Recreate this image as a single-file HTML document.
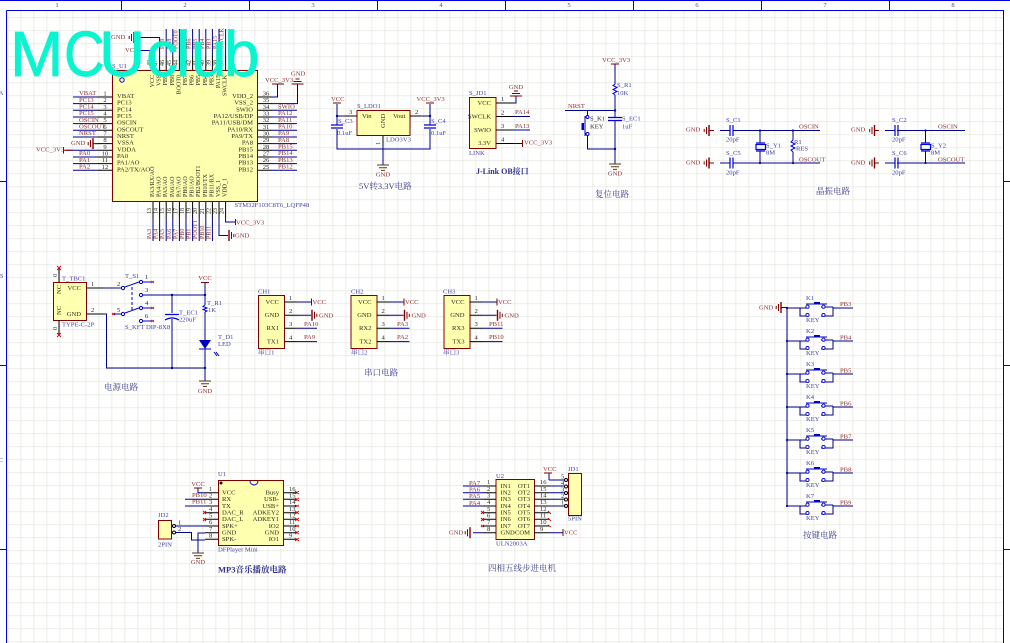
<!DOCTYPE html>
<html><head><meta charset="utf-8"><style>
html,body{margin:0;padding:0;background:#fff;overflow:hidden}
svg{display:block;font-family:"Liberation Serif","Noto Serif CJK SC",serif;font-size:6.6px;filter:blur(.3px)}
.r{fill:#8b3030}.b{fill:#4545a5}.k{fill:#2b2b20}
.w{fill:none;stroke:#00008b;stroke-width:1}
.p{fill:none;stroke:#000;stroke-width:1}
.d{fill:none;stroke:#800000;stroke-width:1}
.c{fill:none;stroke:#0000e0;stroke-width:1.2}
.body{fill:#ffffb0;stroke:#800000;stroke-width:1}
.x{fill:none;stroke:#e00000;stroke-width:.9}
.t{font-size:8.5px;fill:#40408f}
.m{text-anchor:middle}.e{text-anchor:end}
</style></head><body>
<svg width="1010" height="643" viewBox="0 0 1010 643" xmlns="http://www.w3.org/2000/svg">
<defs>
<pattern id="g" x="7.5" y="4.3" width="13" height="13" patternUnits="userSpaceOnUse"><path d="M0 0V13M0 0H13" fill="none" stroke="#e7e7e0" stroke-width="1.5"/></pattern>
<g id="gl"><path class="d" style="stroke-width:1.4" d="M0-5.5V5.5"/><path class="d" d="M-2.5-3.5V3.5M-4.8-1.6V1.6"/></g>
<g id="gd"><path class="d" d="M-6 0H6M-4 2.8H4M-2 5.4H2" style="stroke:#5a3a10"/></g>
<g id="gu"><path class="d" d="M-6 0H6M-4-2.5H4M-2-5H2"/></g>
<g id="key"><path class="w" d="M0 0H13M13 0V8H21M13 0H21M46 -1H34M46 -1V8H34M46 0H66"/><circle cx="20.5" cy="-1.3" r="1.6" fill="#fff" stroke="#0000c0" stroke-width=".9"/><circle cx="20.5" cy="7" r="1.6" fill="#fff" stroke="#0000c0" stroke-width=".9"/><circle cx="36.5" cy="-1.3" r="1.6" fill="#fff" stroke="#0000c0" stroke-width=".9"/><circle cx="36.5" cy="7" r="1.6" fill="#fff" stroke="#0000c0" stroke-width=".9"/><path d="M19-4H40" stroke="#0000c0" fill="none"/><rect x="27" y="-6" width="6" height="2" fill="#0000c0"/><circle cx="0" cy="0" r="1.1" fill="#00008b"/></g>
</defs>
<rect width="1010" height="643" fill="#fff"/>
<rect x="7" y="10" width="997" height="640" fill="url(#g)"/>
<path d="M0 .5H1010M6.5 10.5H1003.5V643M6.5 10.5V643M121.5 0V10M249.5 0V10M377.5 0V10M505.5 0V10M633.5 0V10M761.5 0V10M889.5 0V10M0 181.5H6M0 365.5H6M0 549.5H6M1004 181.5H1010M1004 365.5H1010M1004 549.5H1010" fill="none" stroke="#0000e0" stroke-width="1"/>
<g class="b m"><text x="57" y="7">1</text><text x="185" y="7">2</text><text x="313" y="7">3</text><text x="441" y="7">4</text><text x="569" y="7">5</text><text x="697" y="7">6</text><text x="825" y="7">7</text><text x="953" y="7">8</text><text x="1" y="95">A</text><text x="1" y="278">B</text><text x="1" y="462">C</text></g>

<!-- MCU -->
<rect class="body" x="112.5" y="70.5" width="145" height="131"/>
<circle cx="122" cy="80" r="2.2" fill="none" stroke="#0000e0"/>
<path class="p" d="M98 97H112M98 103.6H112M98 110.3H112M98 117H112M98 123.6H112M98 130.3H112M98 137H112M98 143.6H112M98 150.3H112M98 157H112M98 163.6H112M98 170.3H112M258 97H272M258 103.6H272M258 110.3H272M258 117H272M258 123.6H272M258 130.3H272M258 137H272M258 143.6H272M258 150.3H272M258 157H272M258 163.6H272M258 170.3H272M153 202V218M159.6 202V218M166.2 202V218M172.8 202V218M179.4 202V218M186 202V218M192.6 202V218M199.2 202V218M205.8 202V218M212.4 202V218M219 202V218M225.6 202V218M153 56V70M159.6 56V70M166.2 56V70M172.8 56V70M179.4 56V70M186 56V70M192.6 56V70M199.2 56V70M205.8 56V70M212.4 56V70M219 56V70M225.6 56V70"/>
<path class="w" d="M73 97H98M73 103.6H98M73 110.3H98M73 117H98M73 123.6H98M73 130.3H98M73 137H98M95 143.6H98M66 150.3H98M73 157H98M73 163.6H98M73 170.3H98M272 97H277.5V84M272 103.6H297.5V84M272 110.3H297M272 117H297M272 123.6H297M272 130.3H297M272 137H297M272 143.6H297M272 150.3H297M272 157H297M272 163.6H297M272 170.3H297M153 218V241M159.6 218V241M166.2 218V241M172.8 218V241M179.4 218V241M186 218V241M192.6 218V241M199.2 218V241M205.8 218V241M212.4 218V241M219 218V235.5H228M225.6 218V222H235M166.2 56V29M172.8 56V29M179.4 56V29M186 56V29M192.6 56V29M199.2 56V29M205.8 56V29M212.4 56V29M219 56V29M225.6 56V29M153 56V50.5H139M159.6 56V37.5H135"/>
<path class="d" d="M63.5 147V153.5M64 150.3H72M235.5 219V225M272 84H284M139 47V54M93 143.6H98"/>
<use href="#gl" transform="translate(93 143.6)"/><use href="#gl" transform="translate(134 37.5)"/><use href="#gl" transform="translate(229 235.5) scale(-1 1)"/><use href="#gu" x="297.5" y="84"/>
<g class="k">
<text x="117" y="98">VBAT</text><text x="117" y="104.6">PC13</text><text x="117" y="111.3">PC14</text><text x="117" y="118">PC15</text><text x="117" y="124.6">OSCIN</text><text x="117" y="131.3">OSCOUT</text><text x="117" y="138">NRST</text><text x="117" y="144.6">VSSA</text><text x="117" y="151.3">VDDA</text><text x="117" y="158">PA0</text><text x="117" y="164.6">PA1/AO</text><text x="117" y="171.3">PA2/TX/AO</text>
<g class="e"><text x="253" y="98">VDD_2</text><text x="253" y="104.6">VSS_2</text><text x="253" y="111.3">SWIO</text><text x="253" y="118">PA12/USB/DP</text><text x="253" y="124.6">PA11/USB/DM</text><text x="253" y="131.3">PA10/RX</text><text x="253" y="138">PA9/TX</text><text x="253" y="144.6">PA8</text><text x="253" y="151.3">PB15</text><text x="253" y="158">PB14</text><text x="253" y="164.6">PB13</text><text x="253" y="171.3">PB12</text></g>
<g class="m"><text x="105" y="95.5">1</text><text x="105" y="102">2</text><text x="105" y="108.8">3</text><text x="105" y="115.5">4</text><text x="105" y="122">5</text><text x="105" y="128.8">6</text><text x="105" y="135.5">7</text><text x="105" y="142">8</text><text x="105" y="148.8">9</text><text x="105" y="155.5">10</text><text x="105" y="162">11</text><text x="105" y="168.8">12</text>
<text x="266" y="95.5">36</text><text x="266" y="102">35</text><text x="266" y="108.8">34</text><text x="266" y="115.5">33</text><text x="266" y="122">32</text><text x="266" y="128.8">31</text><text x="266" y="135.5">30</text><text x="266" y="142">29</text><text x="266" y="148.8">28</text><text x="266" y="155.5">27</text><text x="266" y="162">26</text><text x="266" y="168.8">25</text></g>
<g font-size="6">
<text transform="translate(154 197) rotate(-90)">PA3/RX/AO</text><text transform="translate(160.6 197) rotate(-90)">PA4/AO</text><text transform="translate(167.2 197) rotate(-90)">PA5/AO</text><text transform="translate(173.8 197) rotate(-90)">PA6/AO</text><text transform="translate(180.4 197) rotate(-90)">PA7/AO</text><text transform="translate(187 197) rotate(-90)">PB0/AO</text><text transform="translate(193.6 197) rotate(-90)">PB1/AO</text><text transform="translate(200.2 197) rotate(-90)">PB2/BOOT1</text><text transform="translate(206.8 197) rotate(-90)">PB10/TX</text><text transform="translate(213.4 197) rotate(-90)">PB11/RX</text><text transform="translate(220 197) rotate(-90)">VSS_1</text><text transform="translate(226.6 197) rotate(-90)">VDD_1</text>
<g class="e"><text transform="translate(154 75) rotate(-90)">VCC</text><text transform="translate(160.6 75) rotate(-90)">VSS</text><text transform="translate(167.2 75) rotate(-90)">PB9</text><text transform="translate(173.8 75) rotate(-90)">PB8</text><text transform="translate(180.4 75) rotate(-90)">BOOT0</text><text transform="translate(187 75) rotate(-90)">PB7</text><text transform="translate(193.6 75) rotate(-90)">PB6</text><text transform="translate(200.2 75) rotate(-90)">PB5</text><text transform="translate(206.8 75) rotate(-90)">PB4</text><text transform="translate(213.4 75) rotate(-90)">PB3</text><text transform="translate(220 75) rotate(-90)">PA15</text><text transform="translate(226.6 75) rotate(-90)">SWCLK</text></g>
<text transform="translate(151 214) rotate(-90)">13</text><text transform="translate(157.6 214) rotate(-90)">14</text><text transform="translate(164.2 214) rotate(-90)">15</text><text transform="translate(170.8 214) rotate(-90)">16</text><text transform="translate(177.4 214) rotate(-90)">17</text><text transform="translate(184 214) rotate(-90)">18</text><text transform="translate(190.6 214) rotate(-90)">19</text><text transform="translate(197.2 214) rotate(-90)">20</text><text transform="translate(203.8 214) rotate(-90)">21</text><text transform="translate(210.4 214) rotate(-90)">22</text><text transform="translate(217 214) rotate(-90)">23</text><text transform="translate(223.6 214) rotate(-90)">24</text>
<text transform="translate(151 66) rotate(-90)">48</text><text transform="translate(157.6 66) rotate(-90)">47</text><text transform="translate(164.2 66) rotate(-90)">46</text><text transform="translate(170.8 66) rotate(-90)">45</text><text transform="translate(177.4 66) rotate(-90)">44</text><text transform="translate(184 66) rotate(-90)">43</text><text transform="translate(190.6 66) rotate(-90)">42</text><text transform="translate(197.2 66) rotate(-90)">41</text><text transform="translate(203.8 66) rotate(-90)">40</text><text transform="translate(210.4 66) rotate(-90)">39</text><text transform="translate(217 66) rotate(-90)">38</text><text transform="translate(223.6 66) rotate(-90)">37</text>
</g></g>
<g class="r">
<text x="79" y="95">VBAT</text><text x="79" y="102">PC13</text><text x="79" y="108.5">PC14</text><text x="79" y="115">PC15</text><text x="79" y="122">OSCIN</text><text x="79" y="128.5">OSCOUT</text><text x="79" y="135">NRST</text><text x="71" y="145">GND</text><text x="36" y="151.5">VCC_3V3</text><text x="79" y="155">PA0</text><text x="79" y="162">PA1</text><text x="79" y="168.5">PA2</text>
<text x="278" y="108.5">SWIO</text><text x="278" y="115">PA12</text><text x="278" y="122">PA11</text><text x="278" y="128.5">PA10</text><text x="278" y="135">PA9</text><text x="278" y="142">PA8</text><text x="278" y="148.5">PB15</text><text x="278" y="155">PB14</text><text x="278" y="162">PB13</text><text x="278" y="168.5">PB12</text>
<text x="265" y="82">VCC_3V3</text><text x="291" y="75.5">GND</text><text x="236" y="224.5">VCC_3V3</text><text x="235" y="237.5">GND</text>
<text x="111" y="39">GND</text><text x="125" y="52">VCC</text>
<g font-size="6"><text transform="translate(151 239) rotate(-90)">PA3</text><text transform="translate(157.6 239) rotate(-90)">PA4</text><text transform="translate(164.2 239) rotate(-90)">PA5</text><text transform="translate(170.8 239) rotate(-90)">PA6</text><text transform="translate(177.4 239) rotate(-90)">PA7</text><text transform="translate(184 239) rotate(-90)">PB0</text><text transform="translate(190.6 239) rotate(-90)">PB1</text><text transform="translate(197.2 239) rotate(-90)">POOT1</text><text transform="translate(203.8 239) rotate(-90)">PB10</text><text transform="translate(210.4 239) rotate(-90)">PB11</text>
<text transform="translate(164.2 49) rotate(-90)">PB9</text><text transform="translate(170.8 49) rotate(-90)">PB8</text><text transform="translate(177.4 49) rotate(-90)">POOT0</text><text transform="translate(184 49) rotate(-90)">PB7</text><text transform="translate(190.6 49) rotate(-90)">PB6</text><text transform="translate(197.2 49) rotate(-90)">PB5</text><text transform="translate(203.8 49) rotate(-90)">PB4</text><text transform="translate(210.4 49) rotate(-90)">PB3</text><text transform="translate(217 49) rotate(-90)">PA15</text><text transform="translate(223.6 49) rotate(-90)">SWCLK</text></g>
</g>
<text class="b" x="112" y="68">S_U1</text><text class="b" x="234.5" y="207">STM32F103C8T6_LQFP48</text>

<!-- LDO -->
<rect class="body" x="357" y="110.5" width="53" height="25"/>
<path class="p" d="M345 116H357M410 116H420M383 136V146"/>
<path class="w" d="M337 104V125M337 129V149H430V129M430 125V104M337 116H345M420 116H430M383 146V165"/>
<path class="d" d="M333 103H341M426 103H434"/>
<path class="c" d="M331 125H343M331 128H343M424 125H436M424 128H436"/>
<circle cx="337" cy="116" r="1.2" fill="#00008b"/><circle cx="430" cy="116" r="1.2" fill="#00008b"/>
<use href="#gd" x="383" y="165"/>
<g class="k"><text x="362" y="118">Vin</text><text x="393" y="118">Vout</text><text transform="translate(385 128) rotate(-90)">GND</text><text x="349" y="114">3</text><text x="415" y="114">2</text><text transform="translate(380 145) rotate(-90)">1</text></g>
<g class="b"><text x="357" y="108">S_LDO1</text><text x="386" y="141.5">LDO3V3</text><text x="338" y="123">S_C3</text><text x="337" y="135">0.1uF</text><text x="431" y="123">S_C4</text><text x="431" y="135">0.1uF</text></g>
<g class="r"><text x="331" y="101">VCC</text><text x="416.5" y="101">VCC_3V3</text><text x="383" y="176.5" class="m">GND</text></g>
<text class="t" x="359" y="189">5V转3.3V电路</text>

<!-- JLINK -->
<rect class="body" x="469.5" y="97.5" width="26.5" height="51"/>
<path class="p" d="M496 103H513M496 116.5H513M496 130H513M496 143.5H513"/>
<path class="w" d="M513 103H516V96M513 116.5H530M513 130H530M513 143.5H522"/>
<path class="d" d="M522.5 140V147"/><use href="#gu" x="516" y="96"/>
<g class="k e"><text x="491" y="105">VCC</text><text x="491" y="118.5">SWCLK</text><text x="491" y="132">SWIO</text><text x="491" y="145">3.3V</text></g>
<g class="k"><text x="501" y="101">1</text><text x="501" y="114.5">2</text><text x="501" y="128">3</text><text x="501" y="141.5">4</text></g>
<g class="r"><text x="516" y="89" class="m">GND</text><text x="515" y="114">PA14</text><text x="515" y="128">PA13</text><text x="524" y="144.5">VCC_3V3</text></g>
<g class="b"><text x="469" y="95">S_JD1</text><text x="469" y="155">LINK</text></g>
<text x="476" y="174" font-size="8" font-weight="bold" style="fill:#30308a">J-Link OB接口</text>

<!-- RESET -->
<path class="w" d="M615 64V84M615 95V117M615 121V164M565 110.5H615M587.5 110.5V115M587.5 136V149H615"/>
<path class="d" d="M611 64H619"/>
<path d="M615 84L613 85.5L617 87.5L613 89.5L617 91.5L613 93.5L615 95" fill="none" stroke="#0000e0"/>
<path class="c" d="M608 117.5H622M608 120.5H622"/>
<circle cx="615" cy="110.5" r="1.2" fill="#00008b"/><circle cx="615" cy="149" r="1.2" fill="#00008b"/>
<circle cx="587.5" cy="117" r="1.5" fill="#fff" stroke="#0000c0"/><circle cx="587.5" cy="134" r="1.5" fill="#fff" stroke="#0000c0"/>
<path d="M585 116V136" stroke="#0000c0" fill="none"/><rect x="581.5" y="123" width="2.5" height="7" fill="#0000c0"/>
<use href="#gd" x="615" y="164"/>
<g class="r"><text x="602" y="62">VCC_3V3</text><text x="568" y="108">NRST</text><text x="615" y="175.5" class="m">GND</text></g>
<g class="b"><text x="617" y="87">S_R1</text><text x="617" y="95">10K</text><text x="622" y="120.5">S_EC1</text><text x="622" y="128.5">1uF</text></g>
<g class="k"><text x="590" y="120.5">S_K1</text><text x="590" y="128.5">KEY</text></g>
<text class="t" x="595" y="197">复位电路</text>

<!-- CRYSTAL -->
<path class="w" d="M733 130.5H820M733 163H820M760 130.5V143M760 151V163M793 130.5V140M793 152V163M897 130.5H965M897 163H965M925.5 130.5V143M925.5 151V163M720 130.5H730M720 163H730M885 130.5H895M885 163H895"/>
<path class="d" d="M709 130.5H714M709 163H714M875 130.5H879M875 163H879"/>
<use href="#gl" transform="translate(709 130.5)"/><use href="#gl" transform="translate(709 163)"/><use href="#gl" transform="translate(874.5 130.5)"/><use href="#gl" transform="translate(874.5 163)"/>
<path class="c" d="M730 125V136M733 125V136M730 157.5V168.5M733 157.5V168.5M895 125V136M898 125V136M895 157.5V168.5M898 157.5V168.5M756 143H765M756 151H765M921 143H930M921 151H930"/>
<rect x="756" y="144.5" width="9.5" height="5" fill="none" stroke="#0000e0" stroke-width="1.2"/><rect x="921" y="144.5" width="9.5" height="5" fill="none" stroke="#0000e0" stroke-width="1.2"/>
<path d="M793 140L791 142L795 144L791 146L795 148L791 150L793 152" fill="none" stroke="#0000e0"/>
<g fill="#00008b"><circle cx="760" cy="130.5" r="1.1"/><circle cx="760" cy="163" r="1.1"/><circle cx="793" cy="130.5" r="1.1"/><circle cx="793" cy="163" r="1.1"/><circle cx="925.5" cy="130.5" r="1.1"/><circle cx="925.5" cy="163" r="1.1"/></g>
<g class="r"><text x="686" y="131.5">GND</text><text x="686" y="164.5">GND</text><text x="851" y="131.5">GND</text><text x="851" y="164.5">GND</text><text x="799" y="128.5">OSCIN</text><text x="799" y="161.5">OSCOUT</text><text x="938" y="128.5">OSCIN</text><text x="938" y="161.5">OSCOUT</text></g>
<g class="b"><text x="726" y="122">S_C1</text><text x="726" y="141.5">20pF</text><text x="726" y="155">S_C5</text><text x="726" y="174.5">20pF</text><text x="892" y="122">S_C2</text><text x="892" y="141.5">20pF</text><text x="892" y="155">S_C6</text><text x="892" y="174.5">20pF</text><text x="766" y="147.5">S_Y1</text><text x="766" y="154.5">8M</text><text x="931" y="147.5">S_Y2</text><text x="931" y="154.5">8M</text><text x="794" y="144">R1</text><text x="796" y="150.5">RES</text></g>
<text class="t" x="816" y="194">晶振电路</text>

<!-- POWER -->
<rect class="body" x="53.5" y="282.5" width="33" height="38"/>
<path class="p" d="M86 288H103M86 314H103M59 282V268M59 320V335"/>
<path class="w" d="M103 288H121M103 314H106.5V368H205M143 295H205M172 295V313M172 319V368M205 283V305M205 312V340M205 349V381"/>
<path class="d" d="M201 282.5H209"/>
<path d="M57 266L61 270M61 266L57 270M57 333L61 337M61 333L57 337M151 281L154 283M151 283L154 281M151 307L154 309M151 309L154 307M151 320L154 322M151 322L154 320M112 313L115 315M112 315L115 313" class="x"/>
<g fill="none" stroke="#0000c0"><circle cx="123" cy="288" r="1.6"/><circle cx="141" cy="282" r="1.6"/><circle cx="141" cy="295" r="1.6"/><circle cx="141" cy="308" r="1.6"/><circle cx="141" cy="321" r="1.6"/><circle cx="123" cy="314" r="1.6"/><path d="M125 287L139 282M125 313L139 308M143 282H151M143 308H151M143 321H151M114 314H121"/><path d="M132 287V311" stroke-dasharray="3 2"/></g>
<path d="M205 305L203 306.5L207 308L203 309.5L207 311L205 312" fill="none" stroke="#0000e0"/>
<path class="c" d="M165 314.5H179M165 320Q172 316 179 320"/>
<path d="M199 340H211L205 349Z" fill="#0000c0"/><path d="M199 349H211" stroke="#0000c0"/><path d="M214 352L217 356M216 352L219 356" stroke="#0000c0"/>
<g fill="#00008b"><circle cx="172" cy="295" r="1.2"/><circle cx="205" cy="295" r="1.2"/><circle cx="172" cy="368" r="1.2"/><circle cx="205" cy="368" r="1.2"/></g>
<use href="#gd" x="205" y="381"/>
<g class="k"><text x="81" y="290" class="e">VCC</text><text x="81" y="316" class="e">GND</text><text transform="translate(61 294) rotate(-90)">NC</text><text transform="translate(61 315) rotate(-90)">NC</text><text transform="translate(57 277) rotate(-90)">0</text><text transform="translate(57 330) rotate(-90)">0</text><text x="91" y="286">1</text><text x="91" y="312">2</text><text x="117" y="286">2</text><text x="145" y="279">1</text><text x="145" y="292">3</text><text x="145" y="305">4</text><text x="117" y="312">5</text><text x="145" y="318">6</text></g>
<g class="b"><text x="62" y="280.5">T_TBC1</text><text x="62" y="326.5">TYPE-C-2P</text><text x="125" y="278">T_S1</text><text x="125" y="329">S_KFT DIP-8X8</text><text x="179" y="314.5">T_EC1</text><text x="179" y="321.5">220uF</text><text x="207" y="305">T_R1</text><text x="208" y="312">1K</text><text x="218" y="339">T_D1</text><text x="218" y="346">LED</text></g>
<g class="r m"><text x="205" y="280">VCC</text><text x="205" y="393">GND</text></g>
<text class="t" x="104" y="390">电源电路</text>

<!-- SERIAL -->
<g id="ch1"><rect class="body" x="258.5" y="295.5" width="26" height="53"/><path class="p" d="M284 302H297M284 315.3H297M284 328.3H297M284 341.6H297"/><path class="w" d="M297 302H311M297 315.3H311M297 328.3H317M297 341.6H317"/><path class="d" d="M311.5 298.5V305.5"/><use href="#gl" transform="translate(312 315.3) scale(-1 1)"/></g>
<use href="#ch1" x="92.5"/><use href="#ch1" x="185.5"/>
<g class="k"><text x="279" y="304" class="e">VCC</text><text x="279" y="317" class="e">GND</text><text x="279" y="330" class="e">RX1</text><text x="279" y="343.5" class="e">TX1</text><text x="289" y="300">1</text><text x="289" y="313">2</text><text x="289" y="326">3</text><text x="289" y="339.5">4</text>
<text x="371.5" y="304" class="e">VCC</text><text x="371.5" y="317" class="e">GND</text><text x="371.5" y="330" class="e">RX2</text><text x="371.5" y="343.5" class="e">TX2</text><text x="381.5" y="300">1</text><text x="381.5" y="313">2</text><text x="381.5" y="326">3</text><text x="381.5" y="339.5">4</text>
<text x="464.5" y="304" class="e">VCC</text><text x="464.5" y="317" class="e">GND</text><text x="464.5" y="330" class="e">RX3</text><text x="464.5" y="343.5" class="e">TX3</text><text x="474.5" y="300">1</text><text x="474.5" y="313">2</text><text x="474.5" y="326">3</text><text x="474.5" y="339.5">4</text></g>
<g class="r"><text x="312.5" y="304">VCC</text><text x="319" y="317.5">GND</text><text x="304" y="326">PA10</text><text x="304" y="339">PA9</text>
<text x="405" y="304">VCC</text><text x="411.5" y="317.5">GND</text><text x="397" y="326">PA3</text><text x="397" y="339">PA2</text>
<text x="498" y="304">VCC</text><text x="504.5" y="317.5">GND</text><text x="489" y="326">PB11</text><text x="489" y="339">PB10</text></g>
<g class="b"><text x="258" y="293.5">CH1</text><text x="351" y="293.5">CH2</text><text x="443" y="293.5">CH3</text><text x="258" y="354.5">串口1</text><text x="351" y="354.5">串口2</text><text x="443" y="354.5">串口3</text></g>
<text class="t" x="364" y="375.5">串口电路</text>

<!-- KEYS -->
<use href="#gl" transform="translate(781 307.5)"/>
<path class="w" d="M781 307.5H787V506.5"/>
<use href="#key" x="787" y="308"/><use href="#key" x="787" y="341"/><use href="#key" x="787" y="374"/><use href="#key" x="787" y="407"/><use href="#key" x="787" y="440"/><use href="#key" x="787" y="473"/><use href="#key" x="787" y="506"/>
<text class="r" x="759" y="309.5">GND</text>
<g class="b"><text x="806" y="300">K1</text><text x="806" y="333">K2</text><text x="806" y="366">K3</text><text x="806" y="399">K4</text><text x="806" y="432">K5</text><text x="806" y="465">K6</text><text x="806" y="498">K7</text><text x="806" y="322">KEY</text><text x="806" y="355">KEY</text><text x="806" y="388">KEY</text><text x="806" y="421">KEY</text><text x="806" y="454">KEY</text><text x="806" y="487">KEY</text><text x="806" y="520">KEY</text></g>
<g class="r"><text x="840" y="306">PB3</text><text x="840" y="339.5">PB4</text><text x="840" y="372.5">PB5</text><text x="840" y="405.5">PB6</text><text x="840" y="438.5">PB7</text><text x="840" y="471.5">PB8</text><text x="840" y="504.5">PB9</text></g>
<text class="t" x="803" y="538">按键电路</text>

<!-- MP3 -->
<rect class="body" x="218.5" y="480.5" width="65" height="65"/>
<path d="M250 481A4 4 0 0 0 258 481" fill="none" stroke="#0000e0"/><circle cx="221" cy="483" r="1.5" fill="#111"/>
<path class="p" d="M205 492.7H218M205 499.3H218M205 506H218M205 512.7H218M205 519.3H218M205 526H218M205 532.7H218M205 539.3H218M284 492.7H297M284 499.3H297M284 506H297M284 512.7H297M284 519.3H297M284 526H297M284 532.7H297M284 539.3H297"/>
<path class="w" d="M198 488V492.7H205M185 499.3H205M185 506H205M176 526H205M176 532.5H191.5V540H205M205 533H198V553"/>
<path class="d" d="M194 488H202"/>
<path class="x" d="M203 511L206 514M206 511L203 514M203 518L206 521M206 518L203 521M295 491L299 494M299 491L295 494M295 498L299 501M299 498L295 501M295 505L299 507M299 505L295 507M295 511L299 514M299 511L295 514M295 518L299 521M299 518L295 521M295 525L299 527M299 525L295 527M295 531L299 534M299 531L295 534M295 538L299 541M299 538L295 541"/>
<rect class="body" x="158.5" y="520.5" width="13" height="18.5"/>
<circle cx="174" cy="526" r="1.5" fill="#fff" stroke="#000"/><circle cx="174" cy="532.5" r="1.5" fill="#fff" stroke="#000"/>
<use href="#gd" x="198" y="553"/>
<g class="k"><text x="222" y="494.5">VCC</text><text x="222" y="501">RX</text><text x="222" y="508">TX</text><text x="222" y="514.5">DAC_R</text><text x="222" y="521">DAC_L</text><text x="222" y="528">SPK+</text><text x="222" y="534.5">GND</text><text x="222" y="541">SPK-</text>
<g class="e"><text x="279" y="494.5">Busy</text><text x="279" y="501">USB-</text><text x="279" y="508">USB+</text><text x="279" y="514.5">ADKEY2</text><text x="279" y="521">ADKEY1</text><text x="279" y="528">IO2</text><text x="279" y="534.5">GND</text><text x="279" y="541">IO1</text></g>
<text x="209" y="491">1</text><text x="209" y="497.5">2</text><text x="209" y="504">3</text><text x="209" y="511">4</text><text x="209" y="517.5">5</text><text x="209" y="524">6</text><text x="209" y="531">7</text><text x="209" y="537.5">8</text>
<text x="289" y="491">16</text><text x="289" y="497.5">15</text><text x="289" y="504">14</text><text x="289" y="511">13</text><text x="289" y="517.5">12</text><text x="289" y="524">11</text><text x="289" y="531">10</text><text x="289" y="537.5">9</text>
<text x="178" y="524.5">1</text><text x="178" y="531">2</text></g>
<g class="r"><text x="198" y="486" class="m">VCC</text><text x="192" y="497">PB10</text><text x="192" y="503.5">PB11</text><text x="198" y="564" class="m">GND</text></g>
<g class="b"><text x="218" y="476">U1</text><text x="218" y="551.5">DFPlayer Mini</text><text x="158" y="517">JD2</text><text x="158" y="546.5">2PIN</text></g>
<text class="t" x="218" y="572.5" style="fill:#30308a;font-weight:bold">MP3音乐播放电路</text>

<!-- ULN -->
<rect class="body" x="496" y="479.5" width="38.5" height="60"/>
<path class="p" d="M483 486H496M483 492.7H496M483 499.3H496M483 506H496M483 512.7H496M483 519.3H496M483 526H496M483 532.7H496M534 486H549M534 492.7H549M534 499.3H549M534 506H549M534 512.7H549M534 519.3H549M534 526H549M534 532.7H549"/>
<path class="w" d="M463 486H483M463 492.7H483M463 499.3H483M463 506H483M473 532.7H483M549 480H564M549 480V473.5M549 486H564M549 492.7H564M549 499.3H564M549 506H564M549 532.7H563"/>
<path class="d" d="M544 473H552M563 529V536"/>
<g fill="#fff" stroke="#000"><circle cx="566" cy="480" r="1.5"/><circle cx="566" cy="486.5" r="1.5"/><circle cx="566" cy="493" r="1.5"/><circle cx="566" cy="499.5" r="1.5"/><circle cx="566" cy="506" r="1.5"/></g>
<rect class="body" x="568.5" y="473.5" width="13" height="42"/>
<path class="x" d="M481 511L484 514M484 511L481 514M481 518L484 521M484 518L481 521M481 525L484 527M484 525L481 527M548 511L551 514M548 518L551 521M548 525L551 527"/>
<use href="#gl" transform="translate(470 532.7)"/>
<g class="k"><text x="500.5" y="488">IN1</text><text x="500.5" y="494.5">IN2</text><text x="500.5" y="501">IN3</text><text x="500.5" y="508">IN4</text><text x="500.5" y="514.5">IN5</text><text x="500.5" y="521">IN6</text><text x="500.5" y="528">IN7</text><text x="500.5" y="534.5">GND</text>
<g class="e"><text x="530" y="488">OT1</text><text x="530" y="494.5">OT2</text><text x="530" y="501">OT3</text><text x="530" y="508">OT4</text><text x="530" y="514.5">OT5</text><text x="530" y="521">OT6</text><text x="530" y="528">OT7</text><text x="530" y="534.5">COM</text></g>
<text x="487" y="484">1</text><text x="487" y="491">2</text><text x="487" y="497.5">3</text><text x="487" y="504">4</text><text x="487" y="511">5</text><text x="487" y="517.5">6</text><text x="487" y="524">7</text><text x="487" y="531">8</text>
<text x="540" y="484">16</text><text x="540" y="491">15</text><text x="540" y="497.5">14</text><text x="540" y="504">13</text><text x="540" y="511">12</text><text x="540" y="517.5">11</text><text x="540" y="524">10</text><text x="540" y="531">9</text>
<text x="561" y="478.5">5</text><text x="561" y="485">4</text><text x="561" y="491.5">3</text><text x="561" y="498">2</text><text x="561" y="504.5">1</text></g>
<g class="r"><text x="469" y="485">PA7</text><text x="469" y="491.5">PA6</text><text x="469" y="498">PA5</text><text x="469" y="505">PA4</text><text x="449" y="534.5">GND</text><text x="543" y="471">VCC</text><text x="564" y="534.5">VCC</text></g>
<g class="b"><text x="496" y="478">U2</text><text x="496" y="545.5">ULN2003A</text><text x="568" y="471">JD1</text><text x="568" y="520.5">5PIN</text></g>
<text class="t" x="488" y="571">四相五线步进电机</text>

<!-- watermark -->
<g font-family="'Liberation Sans',sans-serif" font-size="64" fill="#0af5cf" stroke="#0af5cf" stroke-width=".7" stroke-linejoin="round"><text x="10" y="76">M</text><text transform="translate(64 76) scale(.88 1)">C</text><text x="99" y="76">U</text><text x="146" y="76">c</text><text x="176" y="76">l</text><text x="191" y="76">u</text><text x="224" y="76">b</text></g>
</svg>
</body></html>
